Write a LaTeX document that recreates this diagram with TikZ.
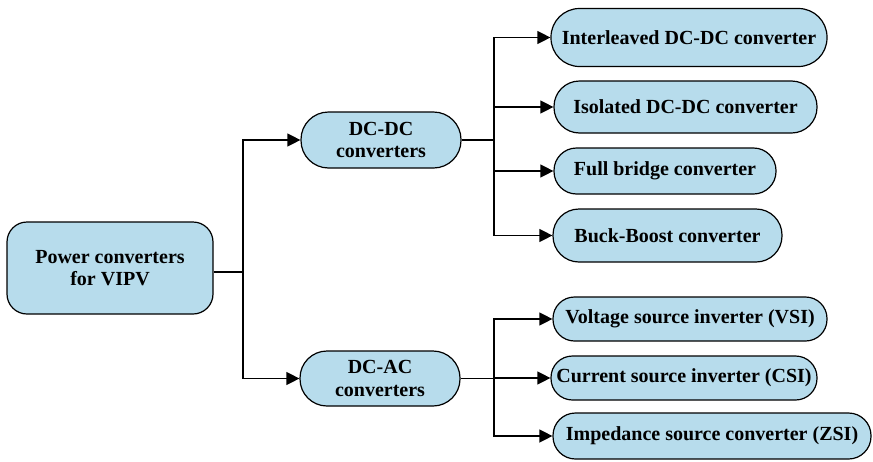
\documentclass[tikz,border=0pt]{standalone}
\usepackage{fontspec}
\setmainfont{Liberation Serif}
\usetikzlibrary{arrows.meta}
\definecolor{boxfill}{RGB}{183,220,236}
\begin{document}
\begin{tikzpicture}[x=1pt,y=-1pt,
  box/.style={draw=black, line width=1.2pt, fill=boxfill, inner sep=0pt, align=center,
    font=\fontsize{20}{22.5}\selectfont\bfseries},
  link/.style={draw=black, line width=1.3pt},
  arr/.style={link, -{Triangle[length=13pt,width=13pt]}}]
\useasboundingbox (0,0) rectangle (873,461);

\node[box, minimum width=206pt, minimum height=92pt, rounded corners=20pt] (root) at (110,268) {Power converters\\for VIPV};

\node[box, minimum width=160pt, minimum height=56pt, rounded corners=27.5pt] (dcdc) at (381,140) {DC-DC\\converters};
\node[box, minimum width=160pt, minimum height=55pt, rounded corners=27pt] (dcac) at (380,378.5) {DC-AC\\converters};

\node[box, minimum width=276pt, minimum height=58pt, rounded corners=28.5pt] (i1) at (689,37.5) {Interleaved DC-DC converter};
\node[box, minimum width=263pt, minimum height=52pt, rounded corners=25.5pt] (i2) at (685.5,107) {Isolated DC-DC converter};
\node[box, minimum width=222pt, minimum height=46pt, rounded corners=22.5pt] (i3) at (665,171) {Full bridge converter};
\node[box, minimum width=229pt, minimum height=53pt, rounded corners=26pt] (i4) at (667.5,235.5) {Buck-Boost converter};

\node[box, minimum width=274pt, minimum height=44pt, rounded corners=21.5pt] (v1) at (690,319) {Voltage source inverter (VSI)};
\node[box, minimum width=266pt, minimum height=44pt, rounded corners=21.5pt] (v2) at (684,378) {Current source inverter (CSI)};
\node[box, minimum width=318pt, minimum height=46pt, rounded corners=22.5pt] (v3) at (712,436) {Impedance source converter (ZSI)};

\coordinate (j1) at (243,272);
\coordinate (j2) at (494,140);
\coordinate (j3) at (494,378.5);

\draw[link] (root.east |- j1) -- (j1);
\draw[arr] (j1) |- (dcdc.west);
\draw[arr] (j1) |- (dcac.west);

\draw[link] (dcdc.east) -- (j2);
\draw[arr] (j2) |- (i1.west);
\draw[arr] (j2) |- (i2.west);
\draw[arr] (j2) |- (i3.west);
\draw[arr] (j2) |- (i4.west);

\draw[link] (dcac.east) -- (j3);
\draw[arr] (j3) |- (v1.west);
\draw[arr] (j3) |- (v2.west);
\draw[arr] (j3) |- (v3.west);
\end{tikzpicture}
\end{document}
